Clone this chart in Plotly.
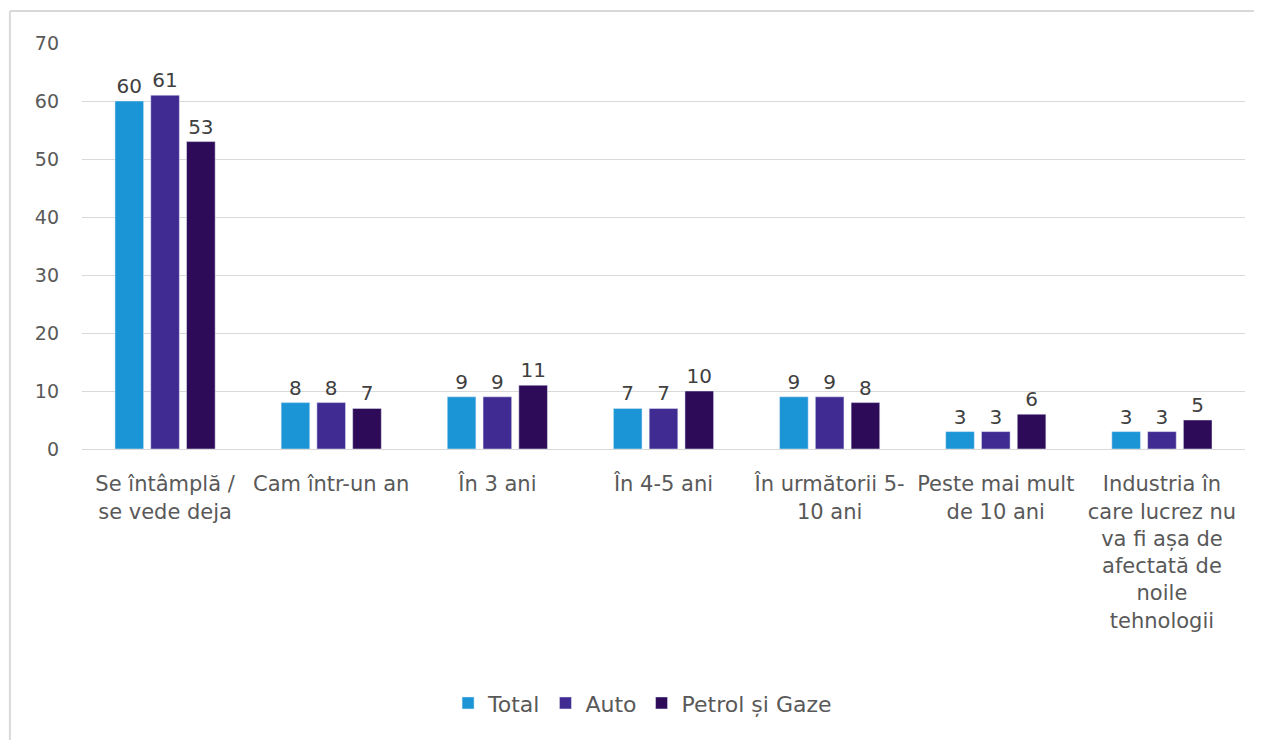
import plotly.graph_objects as go

categories = [
    "Se întâmplă /<br>se vede deja",
    "Cam într-un an",
    "În 3 ani",
    "În 4-5 ani",
    "În următorii 5-<br>10 ani",
    "Peste mai mult<br>de 10 ani",
    "Industria în<br>care lucrez nu<br>va fi așa de<br>afectată de<br>noile<br>tehnologii",
]
total = [60, 8, 9, 7, 9, 3, 3]
auto = [61, 8, 9, 7, 9, 3, 3]
petrol = [53, 7, 11, 10, 8, 6, 5]

series = [
    ("Total", total, "#1b95d6"),
    ("Auto", auto, "#3f2b92"),
    ("Petrol și Gaze", petrol, "#2d0b58"),
]

FONT = "DejaVu Sans, sans-serif"
GREY = "#595959"

fig = go.Figure()
for name, values, colour in series:
    fig.add_trace(
        go.Bar(
            x=categories,
            y=values,
            name=name,
            marker_color=colour,
            text=values,
            textposition="outside",
            textfont=dict(size=20, color="#404040"),
            cliponaxis=False,
        )
    )

# page has an 8px body margin, so the figure is a bit smaller than the window
fig.update_layout(
    width=1254,
    height=732,
    margin=dict(l=74, r=17, t=35, b=291),
    paper_bgcolor="white",
    plot_bgcolor="white",
    font=dict(family=FONT, size=20, color=GREY),
    barmode="group",
    bargap=0.354,
    bargroupgap=0.2,
    showlegend=True,
    legend=dict(
        orientation="h",
        x=0.482,
        xanchor="center",
        y=-0.626,
        yanchor="middle",
        font=dict(size=22, color=GREY),
        itemwidth=30,
    ),
)
fig.update_yaxes(
    range=[0, 70],
    dtick=10,
    showgrid=True,
    gridcolor="#d9d9d9",
    gridwidth=1,
    zeroline=False,
    showline=False,
    ticks="",
    ticklabelstandoff=22,
    tickfont=dict(size=19, color=GREY),
)
fig.update_xaxes(
    showline=True,
    linecolor="#d9d9d9",
    ticks="",
    ticklabelstandoff=16,
    tickangle=0,
    tickfont=dict(size=21, color=GREY),
)
# faint frame left over from the original picture (top and left edges only)
fig.add_shape(type="line", xref="paper", yref="paper",
              x0=-0.062, x1=1.05, y0=1.079, y1=1.079,
              line=dict(color="#d9d9d9", width=2))
fig.add_shape(type="line", xref="paper", yref="paper",
              x0=-0.062, x1=-0.062, y0=1.079, y1=-0.75,
              line=dict(color="#d9d9d9", width=2))

fig.write_html("out.html")
